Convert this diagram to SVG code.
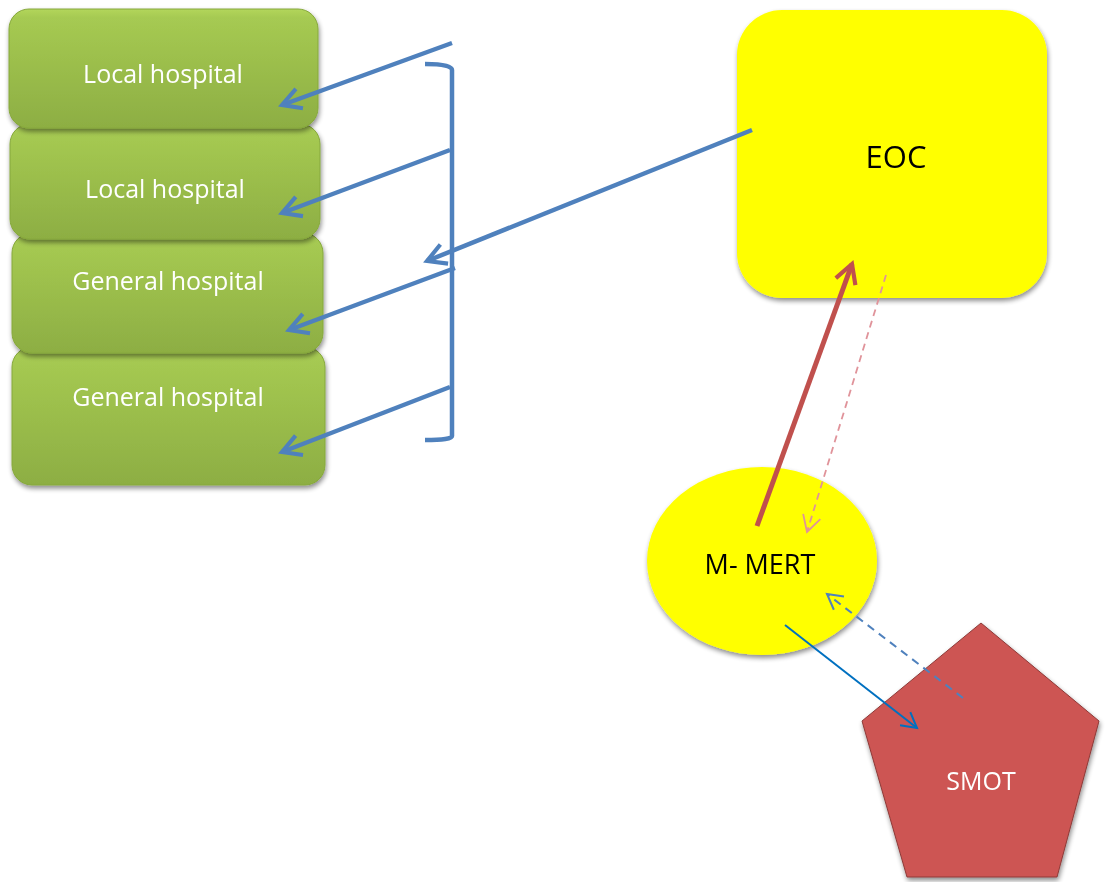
<svg xmlns="http://www.w3.org/2000/svg" width="1105" height="882" viewBox="0 0 1105 882">
<style>
.lbl{font-family:"Open Sans","Noto Sans","Liberation Sans",sans-serif;text-anchor:middle}
.w{fill:#ffffff;font-size:25px}
.k{fill:#000000}
.green{fill:url(#gg);stroke:#86a83c;stroke-width:1}
.blue{stroke:#4f81bd;stroke-width:4.5;fill:none}
</style>
<defs>
<linearGradient id="gg" x1="0" y1="0" x2="0" y2="1">
<stop offset="0" stop-color="#b3d65c"/>
<stop offset="0.07" stop-color="#a6ca52"/>
<stop offset="1" stop-color="#8dae43"/>
</linearGradient>
<filter id="sh" x="-10%" y="-10%" width="125%" height="125%">
<feGaussianBlur in="SourceAlpha" stdDeviation="2.5"/>
<feOffset dx="1" dy="3" result="b"/>
<feComponentTransfer><feFuncA type="linear" slope="0.45"/></feComponentTransfer>
<feMerge><feMergeNode/><feMergeNode in="SourceGraphic"/></feMerge>
</filter>
<marker id="ab" viewBox="0 0 12 12" refX="10" refY="6" markerWidth="5.5" markerHeight="5.5" markerUnits="strokeWidth" orient="auto">
<path d="M1,1 L10,6 L1,11" fill="none" stroke="#4f81bd" stroke-width="2"/>
</marker>
<marker id="ar" viewBox="0 0 12 12" refX="10" refY="6" markerWidth="5" markerHeight="5" markerUnits="strokeWidth" orient="auto">
<path d="M1,1 L10,6 L1,11" fill="none" stroke="#c0504d" stroke-width="2"/>
</marker>
<marker id="ap" viewBox="0 0 12 12" refX="10" refY="6" markerWidth="12" markerHeight="12" markerUnits="strokeWidth" orient="auto">
<path d="M1,1 L10,6 L1,11" fill="none" stroke="#e0939a" stroke-width="1"/>
</marker>
<marker id="abd" viewBox="0 0 12 12" refX="10" refY="6" markerWidth="10" markerHeight="10" markerUnits="strokeWidth" orient="auto">
<path d="M1,1 L10,6 L1,11" fill="none" stroke="#4f81bd" stroke-width="1.2"/>
</marker>
<marker id="abs" viewBox="0 0 12 12" refX="10" refY="6" markerWidth="10" markerHeight="10" markerUnits="strokeWidth" orient="auto">
<path d="M1,1 L10,6 L1,11" fill="none" stroke="#0070c0" stroke-width="1.2"/>
</marker>
</defs>
<rect width="1105" height="882" fill="#ffffff"/>

<g id="gen2" filter="url(#sh)">
<rect class="green" x="12" y="347" width="313" height="138" rx="20"/>
<text class="lbl w" x="168" y="406">General hospital</text>
</g>
<g id="gen1" filter="url(#sh)">
<rect class="green" x="12" y="233" width="311" height="120" rx="20"/>
<text class="lbl w" x="168" y="290">General hospital</text>
</g>
<g id="local2" filter="url(#sh)">
<rect class="green" x="10" y="124" width="310" height="115" rx="20"/>
<text class="lbl w" x="165" y="198">Local hospital</text>
</g>
<g id="local1" filter="url(#sh)">
<rect class="green" x="9" y="9" width="309" height="119" rx="20"/>
<text class="lbl w" x="163" y="83">Local hospital</text>
</g>

<g id="eoc" filter="url(#sh)">
<rect x="737" y="10" width="310" height="288" rx="45" fill="#ffff00"/>
<text class="lbl k" x="896" y="168" font-size="31">EOC</text>
</g>

<g id="mmert" filter="url(#sh)">
<ellipse cx="762" cy="561" rx="115" ry="94" fill="#ffff00"/>
<text class="lbl k" x="760" y="574" font-size="27">M- MERT</text>
</g>

<g id="smot" filter="url(#sh)">
<polygon points="981,623 1099,721 1057,877 907,877 862,721" fill="#cd5552" stroke="#8e3b39" stroke-width="1"/>
<text class="lbl w" x="981" y="790" font-size="26">SMOT</text>
</g>

<g id="connectors">
<path class="blue" d="M425,64 Q452,64 452,70 L452,436 Q452,440 425,440" stroke-width="3.5"/>
<line class="blue" x1="452" y1="43" x2="282" y2="105" marker-end="url(#ab)"/>
<line class="blue" x1="450" y1="150" x2="282" y2="213" marker-end="url(#ab)"/>
<line class="blue" x1="455" y1="268" x2="289" y2="330" marker-end="url(#ab)"/>
<line class="blue" x1="450" y1="387" x2="282" y2="452" marker-end="url(#ab)"/>
<line class="blue" x1="752" y1="130" x2="427" y2="261" marker-end="url(#ab)"/>
<line x1="757" y1="526" x2="852" y2="264" stroke="#c0504d" stroke-width="5" marker-end="url(#ar)"/>
<line x1="886" y1="275" x2="807" y2="532" stroke="#e0939a" stroke-width="1.8" stroke-dasharray="7,5" marker-end="url(#ap)"/>
<line x1="963" y1="698" x2="827" y2="594" stroke="#4f81bd" stroke-width="2" stroke-dasharray="8,6" marker-end="url(#abd)"/>
<line x1="785" y1="625" x2="917" y2="728" stroke="#0070c0" stroke-width="2" marker-end="url(#abs)"/>
</g>
</svg>
